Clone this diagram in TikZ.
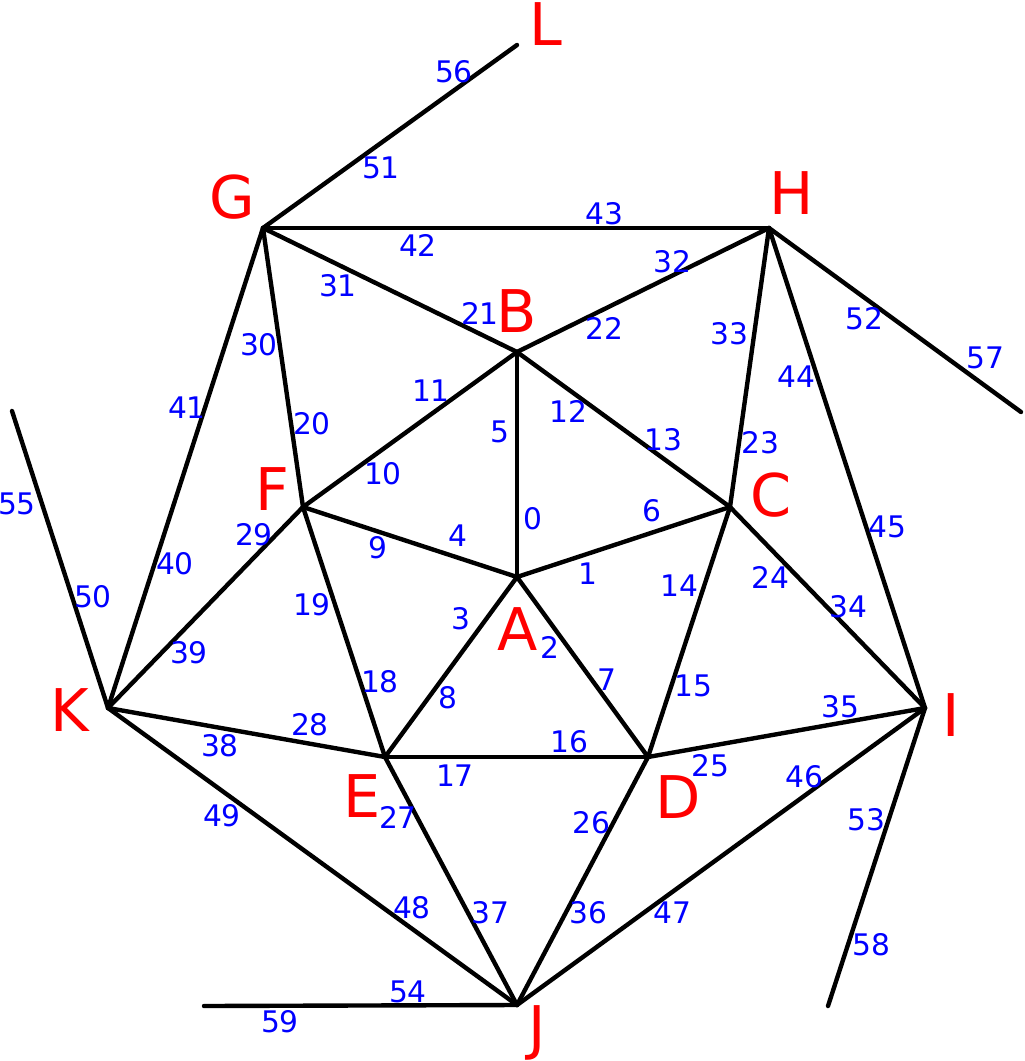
\documentclass[tikz,border=0pt]{standalone}
\usepackage{fontspec}
\setmainfont{DejaVu Sans}
\usepackage{xcolor}

\begin{document}
\begin{tikzpicture}[x=0.02cm, y=-0.02cm, line width=2.5pt, line cap=round,
    vlab/.style={text=red, font=\fontsize{33.5}{40}\selectfont, anchor=base, inner sep=0pt},
    elab/.style={text=blue, font=\fontsize{16.9}{20}\selectfont, inner sep=0pt}]

% picture frame, in pixels of the reference
\useasboundingbox (0,0) rectangle (1024,1061);

% Inner pentagon, outer pentagon and the loose ends
\foreach \v/\x/\y in {A/517/577, B/517/352, C/730/507, D/648/757, E/385/757, F/303/507,
                      G/263/228, H/769/228, I/925/708, J/517/1005, K/108/708,
                      L/517/45, Hend/1021/412, Kend/12/411, Iend/828/1006, Jend/204/1006} {
    \coordinate (\v) at (\x, \y);
}

% Draw the edges
\foreach \u/\v in {A/B, A/C, A/D, A/E, A/F, B/F, B/C, C/D, D/E, E/F,
                   F/G, B/G, B/H, C/H, C/I, D/I, D/J, E/J, E/K, F/K,
                   G/K, G/H, H/I, I/J, J/K, K/Kend, G/L, H/Hend, I/Iend, J/Jend} {
    \draw (\u) -- (\v);
}

% Vertex letters (base line given)
\foreach \v/\x/\y in {A/518/650, B/517/332, C/771/516, D/678/818, E/362/817, F/272/510,
                      G/232/218, H/792/214, I/951/736, J/537/1048, K/70/731, L/546/46} {
    \node[vlab] (l\v) at (\x, \y) {\v};
}

% Edge numbers
\foreach \n/\x/\y in {0/533/519, 1/588/574, 2/550/647, 3/461/619, 4/458/536,
                      5/500/432, 6/652/511, 7/607/680, 8/448/698, 9/378/548,
                      10/383/474, 11/431/391, 12/568/411, 13/663/440, 14/679/586,
                      15/693/686, 16/569/742, 17/455/776, 18/380/682, 19/312/605,
                      20/312/424, 21/480/313, 22/604/328, 23/760/443, 24/770/577,
                      25/710/766, 26/591/823, 27/398/817, 28/310/725, 29/254/535,
                      30/259/345, 31/338/286, 32/672/262, 33/729/334, 34/848/607,
                      35/840/707, 36/588/913, 37/490/913, 38/220/746, 39/189/653,
                      40/175/564, 41/187/408, 42/418/245, 43/604/214, 44/796/377,
                      45/887/527, 46/804/777, 47/672/913, 48/412/908, 49/222/816,
                      50/93/597, 51/381/168, 52/864/319, 53/866/820, 54/408/992,
                      55/17/504, 56/454/72, 57/985/358, 58/871/945, 59/280/1022} {
    \node[elab] (n\n) at (\x, \y) {\n};
}
\end{tikzpicture}
\end{document}
